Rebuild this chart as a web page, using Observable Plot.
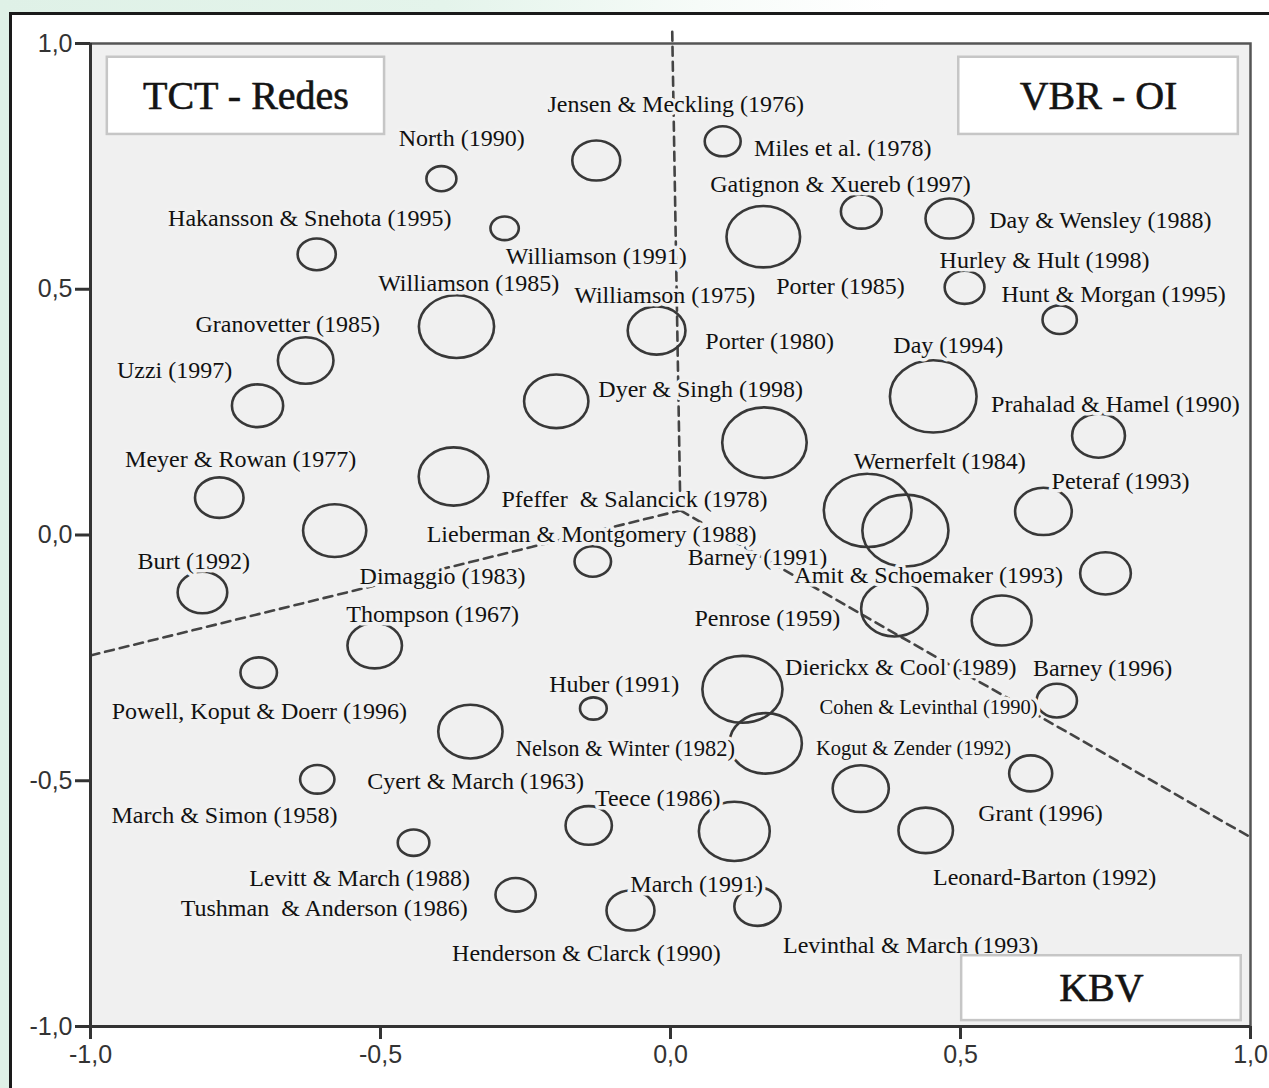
<!DOCTYPE html>
<html>
<head>
<meta charset="utf-8">
<script src="https://cdn.jsdelivr.net/npm/d3@7"></script>
<script src="https://cdn.jsdelivr.net/npm/@observablehq/plot@0.6"></script>
<style>
  html, body { margin: 0; padding: 0; }
  body {
    width: 1269px; height: 1088px; overflow: hidden; position: relative;
    background: linear-gradient(to right, #dff1e7 0%, #e4f4eb 35%, #f6fbf8 55%, #ffffff 70%);
  }
  #frame {
    position: absolute; left: 9px; top: 12px; right: -5px; bottom: -5px;
    background: #ffffff; border-top: 3px solid #1a1a1a; border-left: 3px solid #1a1a1a;
  }
  #chart { position: absolute; left: 0; top: 0; }
</style>
</head>
<body>
<div id="frame"></div>
<div id="chart"></div>
<script>
// ---- Bubbles (position on the two axes, bubble size) ----
const bubbleX = [-0.395, -0.128, 0.090, -0.286, -0.610, 0.160, 0.329, 0.481, 0.507, 0.671,
  -0.369, -0.024, -0.629, -0.712, -0.197, 0.453, 0.162, 0.738, -0.778, -0.374,
  -0.579, 0.340, 0.405, 0.643, -0.134, -0.807, 0.750, 0.386, 0.571, -0.510,
  -0.710, 0.124, 0.164, -0.133, -0.345, 0.666, -0.609, 0.621, 0.328, -0.141,
  0.110, 0.440, -0.443, -0.267, -0.069, 0.150];
const bubbleY = [0.725, 0.762, 0.801, 0.624, 0.571, 0.607, 0.658, 0.644, 0.504, 0.438,
  0.424, 0.416, 0.355, 0.263, 0.272, 0.282, 0.188, 0.202, 0.076, 0.119,
  0.009, 0.050, 0.009, 0.048, -0.054, -0.117, -0.078, -0.150, -0.174, -0.225,
  -0.280, -0.314, -0.424, -0.353, -0.400, -0.337, -0.497, -0.485, -0.516, -0.591,
  -0.603, -0.601, -0.626, -0.732, -0.764, -0.756];
const bubbleSize = [27.5, 44, 33, 26, 35, 67.5, 37.5, 44, 36.5, 31.5,
  69, 53, 51, 47, 59, 79.5, 77.5, 48.5, 44.5, 64,
  58, 80.5, 79, 52, 33.5, 45.5, 46.5, 61, 55, 50,
  33.5, 73.5, 66.5, 24.5, 59, 37, 31.5, 39.5, 51.5, 42.5,
  65, 50, 29, 37, 44, 42.5];

// ---- Author labels ----
const labelText = ["North (1990)", "Jensen & Meckling (1976)", "Miles et al. (1978)", "Gatignon & Xuereb (1997)",
  "Hakansson & Snehota (1995)", "Day & Wensley (1988)", "Williamson (1991)", "Hurley & Hult (1998)",
  "Williamson (1985)", "Williamson (1975)", "Porter (1985)", "Hunt & Morgan (1995)",
  "Granovetter (1985)", "Porter (1980)", "Day (1994)", "Uzzi (1997)", "Dyer & Singh (1998)",
  "Prahalad & Hamel (1990)", "Meyer & Rowan (1977)", "Wernerfelt (1984)", "Peteraf (1993)",
  "Pfeffer  & Salancick (1978)", "Lieberman & Montgomery (1988)", "Burt (1992)", "Barney (1991)",
  "Dimaggio (1983)", "Amit & Schoemaker (1993)", "Thompson (1967)", "Penrose (1959)",
  "Dierickx & Cool (1989)", "Barney (1996)", "Huber (1991)", "Cohen & Levinthal (1990)",
  "Powell, Koput & Doerr (1996)", "Nelson & Winter (1982)", "Kogut & Zender (1992)",
  "Cyert & March (1963)", "Teece (1986)", "March & Simon (1958)", "Grant (1996)",
  "Levitt & March (1988)", "Leonard-Barton (1992)", "March (1991)", "Tushman  & Anderson (1986)",
  "Levinthal & March (1993)", "Henderson & Clarck (1990)"];
const labelX = [-0.360, 0.009, 0.297, 0.293, -0.622, 0.741, -0.128, 0.645, -0.348, -0.010, 0.293, 0.764,
  -0.660, 0.171, 0.479, -0.855, 0.052, 0.767, -0.741, 0.464, 0.776, -0.062, -0.136, -0.822, 0.150,
  -0.393, 0.445, -0.410, 0.167, 0.397, 0.745, -0.097, 0.445, -0.709, -0.078, 0.419,
  -0.336, -0.022, -0.769, 0.638, -0.536, 0.645, 0.045, -0.597, 0.414, -0.145];
const labelY = [0.807, 0.876, 0.786, 0.713, 0.644, 0.640, 0.567, 0.558, 0.512, 0.487, 0.506, 0.489,
  0.428, 0.394, 0.386, 0.335, 0.296, 0.266, 0.154, 0.150, 0.109, 0.072, 0.001, -0.054, -0.046,
  -0.084, -0.082, -0.162, -0.170, -0.270, -0.272, -0.304, -0.351, -0.359, -0.436, -0.434,
  -0.502, -0.536, -0.571, -0.567, -0.699, -0.697, -0.711, -0.760, -0.835, -0.851];
const smallLabels = ["Cohen & Levinthal (1990)", "Kogut & Zender (1992)", "Nelson & Winter (1982)"];

// ---- Theory regions ----
const regionName = ["TCT - Redes", "VBR - OI", "KBV"];
const regionX1 = [-0.971, 0.497, 0.502];
const regionX2 = [-0.493, 0.979, 0.984];
const regionY1 = [0.972, 0.972, -0.856];
const regionY2 = [0.815, 0.815, -0.988];

// ---- Dashed dividing lines ----
const dividerSeg = ["norte", "norte", "oeste", "oeste", "leste", "leste"];
const dividerX = [0.003, 0.017, -1.0, 0.017, 0.017, 1.0];
const dividerY = [1.024, 0.05, -0.245, 0.05, 0.05, -0.615];

// ---- Ticks ----
const xTicks = [-1, -0.5, 0, 0.5, 1];
const xTickLabels = ["-1,0", "-0,5", "0,0", "0,5", "1,0"];
const yTicks = [-1, -0.5, 0, 0.5, 1];
const yTickLabels = ["-1,0", "-0,5", "0,0", "0,5", "1,0"];

// build tables
const bubbles = bubbleX.map((x, i) => ({x, y: bubbleY[i], s: bubbleSize[i]}));
const labels = labelText.map((t, i) => ({t, x: labelX[i], y: labelY[i], small: smallLabels.includes(t)}));
const regions = regionName.map((n, i) => ({n, x1: regionX1[i], x2: regionX2[i], y1: regionY1[i], y2: regionY2[i],
  cx: (regionX1[i] + regionX2[i]) / 2, cy: (regionY1[i] + regionY2[i]) / 2}));
const dividers = dividerSeg.map((s, i) => ({s, x: dividerX[i], y: dividerY[i]}));

// slightly flattened ellipse symbol
const ellipse = {
  draw(ctx, size) {
    const r = Math.sqrt(size / Math.PI), rx = r * 1.09, ry = r * 0.91, k = 0.5523;
    ctx.moveTo(rx, 0);
    ctx.bezierCurveTo(rx, ry * k, rx * k, ry, 0, ry);
    ctx.bezierCurveTo(-rx * k, ry, -rx, ry * k, -rx, 0);
    ctx.bezierCurveTo(-rx, -ry * k, -rx * k, -ry, 0, -ry);
    ctx.bezierCurveTo(rx * k, -ry, rx, -ry * k, rx, 0);
    ctx.closePath();
  }
};

const serif = "'Liberation Serif', 'Times New Roman', serif";
const sans = "'Liberation Sans', Arial, sans-serif";
const chart = Plot.plot({
  width: 1269,
  height: 1088,
  marginLeft: 90,
  marginRight: 19,
  marginTop: 43,
  marginBottom: 62,
  x: {domain: [-1, 1]},
  y: {domain: [-1, 1]},
  r: {type: "linear", domain: [0, 100], range: [0, 50]},
  style: {background: "transparent", fontFamily: sans, fontSize: "24px", color: "#333"},
  marks: [
    Plot.frame({fill: "#f0f0f0"}),
    Plot.line(dividers, {x: "x", y: "y", z: "s", stroke: "#444", strokeWidth: 2.6, strokeDasharray: "9,6"}),
    Plot.dot(bubbles, {x: "x", y: "y", r: "s", symbol: ellipse, fill: "none", stroke: "#383838", strokeWidth: 2.6}),
    Plot.text(labels.filter(d => !d.small), {x: "x", y: "y", text: "t", fontFamily: serif, fontSize: 24, fill: "#111",
      stroke: "#f1f1f1", strokeWidth: 7, paintOrder: "stroke"}),
    Plot.text(labels.filter(d => d.small), {x: "x", y: "y", text: "t", fontFamily: serif, fontSize: d => d.t.startsWith("Nelson") ? 22.5 : 20.5,
      fill: "#111", stroke: "#f1f1f1", strokeWidth: 7, paintOrder: "stroke"}),
    Plot.rect(regions, {x1: "x1", x2: "x2", y1: "y1", y2: "y2", fill: "#ffffff", stroke: "#c6c6c6", strokeWidth: 2.5}),
    Plot.text(regions, {x: "cx", y: "cy", text: "n", fontFamily: serif, fontSize: 40, fill: "#141414",
      stroke: "#141414", strokeWidth: 0.6}),
    Plot.frame({stroke: "#555", strokeWidth: 2.5}),
    Plot.ruleX([-1], {stroke: "#333", strokeWidth: 3}),
    Plot.ruleY([-1], {stroke: "#333", strokeWidth: 3}),
    Plot.axisX({ticks: xTicks, tickFormat: d => xTickLabels[xTicks.indexOf(d)], tickSize: 13, tickPadding: 6,
      strokeWidth: 3, stroke: "#333", fill: "#333", fontSize: 25, fontFamily: sans}),
    Plot.axisY({ticks: yTicks, tickFormat: d => yTickLabels[yTicks.indexOf(d)], tickSize: 15, tickPadding: 3,
      strokeWidth: 3, stroke: "#333", fill: "#333", fontSize: 25, fontFamily: sans})
  ]
});
document.getElementById("chart").appendChild(chart);
</script>
</body>
</html>
